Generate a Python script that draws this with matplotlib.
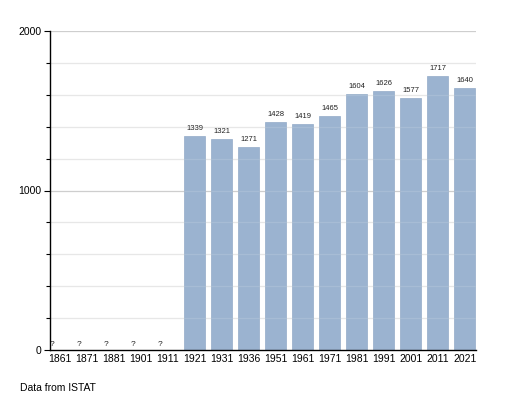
import matplotlib
matplotlib.use("Agg")
import matplotlib.pyplot as plt
import numpy as np

years = ["1861", "1871", "1881", "1901", "1911", "1921", "1931", "1936", "1951",
         "1961", "1971", "1981", "1991", "2001", "2011", "2021"]
values = [None, None, None, None, None, 1339, 1321, 1271, 1428, 1419, 1465,
          1604, 1626, 1577, 1717, 1640]

plt.rcParams['font.family'] = ['Liberation Sans', 'DejaVu Sans']

fig = plt.figure(figsize=(5.05, 4.0), dpi=100)
ax = fig.add_axes([50/505, 1-350/400, 426/505, 319/400])

x = np.arange(len(years))
w = 0.78
bar_color = "#9bb3d0"
for i, v in enumerate(values):
    if v is None:
        ax.text(x[i] - w/2 + 0.02, 15, "?", fontsize=6, ha="left", va="bottom", color="#222222")
    else:
        ax.bar(x[i], v, width=w, color=bar_color, edgecolor="#93abc8", linewidth=0.5, zorder=2)
        ax.text(x[i], v + 25, str(v), fontsize=5.5, ha="center", va="bottom", color="#222222")

ax.set_xlim(-0.37, len(years) - 1 + 0.41)
ax.set_ylim(0, 2000)
ax.set_xticks(x)
ax.set_xticklabels(years, fontsize=7.5)
ax.set_yticks([0, 1000, 2000])
ax.set_yticklabels(["0", "1000", "2000"], fontsize=7.5)
ax.set_yticks(np.arange(0, 2001, 200), minor=True)

for yv in np.arange(200, 2001, 200):
    if yv % 1000 == 0:
        ax.axhline(yv, color="#c8c8c8", lw=0.9, zorder=1)
    else:
        ax.axhline(yv, color="#e4e4e4", lw=0.9, zorder=1)
    ax.axhline(yv, color="#ffffff", lw=0.9, alpha=0.12, zorder=3)

for s in ["top", "right"]:
    ax.spines[s].set_visible(False)
ax.spines["left"].set_linewidth(1.0)
ax.spines["bottom"].set_linewidth(1.0)
ax.spines["left"].set_zorder(4)
ax.spines["bottom"].set_zorder(4)
ax.tick_params(axis="x", length=0, pad=3)
ax.tick_params(axis="y", which="both", length=4, width=0.8, direction="out", pad=2)
ax.tick_params(axis="y", which="minor", length=3)

fig.text(20/505, 1-388/400, "Data from ISTAT", fontsize=7.5, ha="left", va="center")

fig.savefig("out.png", dpi=100)
